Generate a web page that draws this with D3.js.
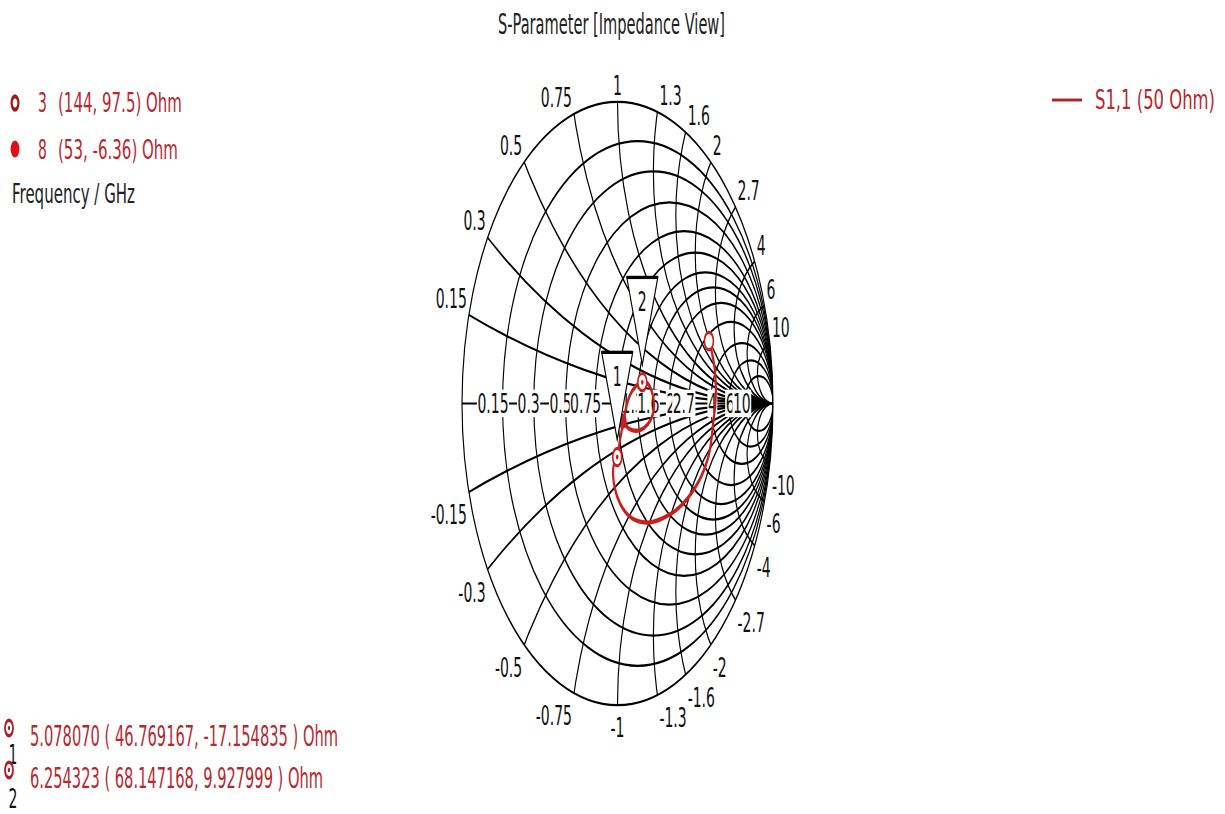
<!DOCTYPE html>
<html><head><meta charset="utf-8">
<script src="https://cdn.jsdelivr.net/npm/d3@7"></script>
<style>body{margin:0;background:#fff;overflow:hidden} text{font-family:"DejaVu Sans",Verdana,sans-serif}</style>
</head><body><svg id="c" width="1225" height="814"></svg>
<script>
// ---- data ----
const titleText = "S-Parameter [Impedance View]";
const resistanceValues = [0.15,0.3,0.5,0.75,1,1.3,1.6,2,2.7,4,6,10];
const reactanceValues  = [0.15,0.3,0.5,0.75,1,1.3,1.6,2,2.7,4,6,10];
const z0 = 50;
// S1,1 trace as reflection coefficient, 3 GHz -> 8 GHz
const s11Re = [0.588,0.601,0.614,0.627,0.633,0.627,0.614,0.601,0.582,0.550,0.505,0.447,0.376,0.293,0.209,0.132,0.068,0.016,-0.016,-0.029,-0.023,-0.002,0.016,0.035,0.055,0.080,0.119,0.160,0.196,0.222,0.235,0.228,0.196,0.145,0.093,0.055,0.033];
const s11Im = [0.207,0.184,0.151,0.105,0.045,-0.012,-0.071,-0.131,-0.181,-0.228,-0.274,-0.317,-0.354,-0.380,-0.394,-0.390,-0.370,-0.331,-0.284,-0.234,-0.201,-0.178,-0.121,-0.068,-0.015,0.028,0.058,0.071,0.065,0.038,0.002,-0.035,-0.068,-0.088,-0.088,-0.075,-0.059];
const endLabels = ["3","8"];
const endTexts = ["(144, 97.5) Ohm","(53, -6.36) Ohm"];
const markerIds = ["1","2"];
const markerFreq = ["5.078070","6.254323"];
const markerR = [46.769167, 68.147168];
const markerX = [-17.154835, 9.927999];
const legendText = "S1,1 (50 Ohm)";
const freqLabel = "Frequency / GHz";

// ---- layout ----
const K = 1.94;               // vertical stretch of the picture
const cx = 617.5, cy = 403.5 / K, R = 155.5;
const red = "#c8201e", redText = "#b8282e";

const svg = d3.select("#c");
const g = svg.append("g").attr("transform", `scale(1,${K})`);
const xS = d3.scaleLinear().domain([-1,1]).range([cx-R, cx+R]);
const yS = d3.scaleLinear().domain([-1,1]).range([cy+R, cy-R]);
const gamma = (r, x) => { // normalized z -> reflection coefficient
  const a = r-1, b = x, c = r+1, d = x, den = c*c + d*d;
  return [(a*c + b*d)/den, (b*c - a*d)/den];
};

// title
g.append("text").attr("x", 498).attr("y", 34/K).attr("font-size", 15)
  .attr("textLength", 227).attr("lengthAdjust", "spacingAndGlyphs").attr("fill", "#222").text(titleText);

// ---- grid ----
g.append("clipPath").attr("id","uc").append("circle").attr("cx",cx).attr("cy",cy).attr("r",R);
const grid = g.append("g").attr("fill","none").attr("stroke","#000").attr("stroke-width",1.15);
const clipped = grid.append("g").attr("clip-path","url(#uc)");
clipped.selectAll("circle.r").data(resistanceValues).join("circle").attr("class","r")
  .attr("cx", r => xS(r/(1+r))).attr("cy", yS(0)).attr("r", r => (xS(1)-xS(0))/(1+r));
const reactAll = reactanceValues.flatMap(v => [v, -v]);
clipped.selectAll("circle.x").data(reactAll).join("circle").attr("class","x")
  .attr("cx", xS(1)).attr("cy", v => yS(1/v)).attr("r", v => (xS(1)-xS(0))/Math.abs(v));
grid.append("line").attr("x1", xS(-1)).attr("x2", xS(1)).attr("y1", yS(0)).attr("y2", yS(0));
grid.append("circle").attr("cx",cx).attr("cy",cy).attr("r",R);

// perimeter reactance labels
const perim = g.append("g").attr("font-size",14).attr("fill","#111");
reactAll.forEach(v => {
  const th = Math.sign(v) * (Math.PI - 2*Math.atan(Math.abs(v)));
  const px = xS(Math.cos(th)), py = yS(Math.sin(th));
  const c = Math.cos(th);
  const anchor = Math.abs(c) < 0.15 ? "middle" : (c > 0 ? "start" : "end");
  const dx = anchor === "middle" ? 0 : (c > 0 ? 2 : -2);
  const dy = v > 0 ? -7/K : 32/K;
  perim.append("text").attr("x", px+dx).attr("y", py+dy).attr("text-anchor", anchor)
    .text(v > 0 ? String(v) : "-" + Math.abs(v));
});

// real-axis resistance labels with white backgrounds
const axl = g.append("g").attr("font-size",14);
resistanceValues.forEach(r => {
  const gx = (r-1)/(r+1);
  const rect = axl.append("rect").attr("fill","#fff");
  const t = axl.append("text").attr("x", xS(gx)+6).attr("y", yS(0)+4.8).attr("text-anchor","end").attr("fill","#111").text(String(r));
  const b = t.node().getBBox();
  rect.attr("x", b.x-0.5).attr("y", b.y+1).attr("width", b.width+1).attr("height", b.height-2);
});

// ---- S11 trace ----
const pts = s11Re.map((re,i) => [xS(re), yS(s11Im[i])]);
g.append("path").attr("d", d3.line().curve(d3.curveCatmullRom)(pts))
  .attr("fill","none").attr("stroke",red).attr("stroke-width",2.2);
// start / end points
g.append("circle").attr("cx",pts[0][0]).attr("cy",pts[0][1]).attr("r",4.5)
  .attr("fill","#fff").attr("stroke",red).attr("stroke-width",1.6);
const last = pts[pts.length-1];
g.append("circle").attr("cx",last[0]).attr("cy",last[1]).attr("r",4).attr("fill",red);

// numbered markers with triangles
markerIds.forEach((id,i) => {
  const gm = gamma(markerR[i]/z0, markerX[i]/z0);
  const px = xS(gm[0]), py = yS(gm[1]);
  g.append("circle").attr("cx",px).attr("cy",py).attr("r",4.5).attr("fill","#fff").attr("stroke",red).attr("stroke-width",1.6);
  g.append("circle").attr("cx",px).attr("cy",py).attr("r",1.3).attr("fill",red);
  const ay = py-9, ty = py-54;
  g.append("path").attr("d", `M${px},${ay}L${px-15.5},${ty}L${px+15.5},${ty}Z`)
    .attr("fill","#fff").attr("stroke","#000").attr("stroke-width",1.1);
  g.append("line").attr("x1",px-15.5).attr("x2",px+15.5).attr("y1",ty).attr("y2",ty)
    .attr("stroke","#000").attr("stroke-width",1.7);
  g.append("text").attr("x",px).attr("y",py-36.5).attr("text-anchor","middle").attr("font-size",14).attr("fill","#111").text(id);
});

// ---- legends ----
const lg = g.append("g").attr("font-size",14);
endLabels.forEach((lab,i) => {
  const base = [112,159][i];
  const iy = [103,149][i];
  if (i===0) lg.append("circle").attr("cx",15).attr("cy",iy/K).attr("r",3.4).attr("fill","#fff").attr("stroke","#a01818").attr("stroke-width",2.2);
  else lg.append("circle").attr("cx",15).attr("cy",iy/K).attr("r",4.4).attr("fill","#e01010");
  lg.append("text").attr("x",38).attr("y",base/K).attr("fill",redText).text(lab);
  lg.append("text").attr("x",58).attr("y",base/K).attr("fill",redText)
    .attr("textLength",[124,120][i]).attr("lengthAdjust","spacingAndGlyphs").text(endTexts[i]);
});
lg.append("text").attr("x",12).attr("y",203/K).attr("fill","#222")
  .attr("textLength",123).attr("lengthAdjust","spacingAndGlyphs").text(freqLabel);

lg.append("line").attr("x1",1052).attr("x2",1082).attr("y1",100/K).attr("y2",100/K).attr("stroke","#b02028").attr("stroke-width",1.5);
lg.append("text").attr("x",1095).attr("y",109/K).attr("fill",redText)
  .attr("textLength",120).attr("lengthAdjust","spacingAndGlyphs").text(legendText);

// bottom marker readouts
markerIds.forEach((id,i) => {
  const base = [746,788][i];
  const iy = [728,770][i];
  lg.append("circle").attr("cx",9).attr("cy",iy/K).attr("r",4).attr("fill","#fff").attr("stroke","#b02028").attr("stroke-width",1.8);
  lg.append("circle").attr("cx",9).attr("cy",iy/K).attr("r",1.2).attr("fill","#b02028");
  lg.append("text").attr("x",13).attr("y",[764,808][i]/K).attr("text-anchor","middle").attr("fill","#111").text(id);
  const fmt = v => (v<0 ? "-" : "") + Math.abs(v).toFixed(6);
  lg.append("text").attr("x",30).attr("y",base/K).attr("font-size",15).attr("fill",redText)
    .attr("textLength",[308,293][i]).attr("lengthAdjust","spacingAndGlyphs")
    .text(`${markerFreq[i]} ( ${fmt(markerR[i])}, ${fmt(markerX[i])} ) Ohm`);
});
</script></body></html>
